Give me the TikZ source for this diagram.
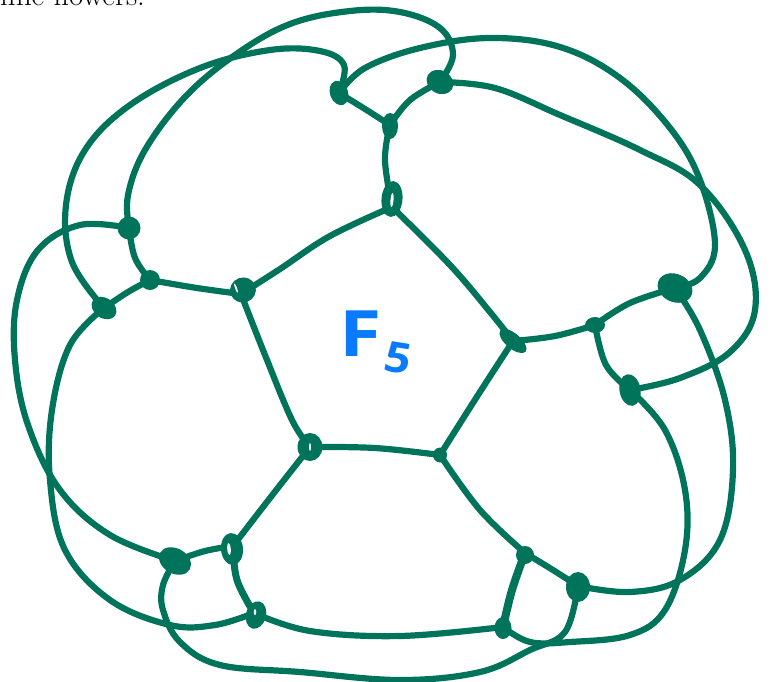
\documentclass[tikz,border=0pt]{standalone}
\usepackage{fontspec}
\usetikzlibrary{shapes.geometric}
\newfontfamily\handfont{Open Sans}
\definecolor{penG}{HTML}{00745A}
\definecolor{penB}{HTML}{0A7BFF}
\tikzset{
  edgeline/.style={draw=penG,line width=6.2pt,line cap=round,line join=round},
  blob/.style={ellipse,fill=penG,inner sep=0pt,outer sep=0pt},
  slit/.style={ellipse,fill=white,inner sep=0pt,outer sep=0pt},
  vtx/.style={inner sep=0pt,outer sep=0pt,minimum size=0pt}
}
\newcommand{\sm}[1]{plot[smooth,tension=0.62] coordinates {#1}}
\begin{document}
\begin{tikzpicture}[x=1pt,y=-1pt]
\useasboundingbox (0,0) rectangle (770,681);
\clip (0,0) rectangle (770,681);
\node[vtx,anchor=base west,font=\fontsize{31}{33}\selectfont] (caption) at (0,5) {ime flowers.};
% vertices
\coordinate (a) at (339,93); \coordinate (b) at (390,125); \coordinate (c) at (440,82);
\coordinate (d) at (392,207); \coordinate (e) at (241,294); \coordinate (f) at (150,280);
\coordinate (g) at (129,228); \coordinate (h) at (104,308); \coordinate (i) at (513,341);
\coordinate (j) at (595,325); \coordinate (k) at (675,288); \coordinate (l) at (630,390);
\coordinate (m) at (310,447); \coordinate (n) at (440,455); \coordinate (o) at (233,546);
\coordinate (p) at (175,561); \coordinate (q) at (254,613); \coordinate (r) at (525,553);
\coordinate (s) at (578,586); \coordinate (t) at (503,627);
% inner edges
\draw[edgeline] \sm{(a) (365,109) (b)};
\draw[edgeline] \sm{(b) (410,100) (c)};
\draw[edgeline] \sm{(b) (385,160) (d)};
\draw[edgeline] \sm{(d) (330,236) (280,269) (e)};
\draw[edgeline] \sm{(d) (450,265) (490,312) (i)};
\draw[edgeline] \sm{(e) (197,288) (f)};
\draw[edgeline] \sm{(e) (265,355) (292,420) (m)};
\draw[edgeline] \sm{(f) (135,258) (g)};
\draw[edgeline] \sm{(f) (128,292) (h)};
\draw[edgeline] \sm{(i) (555,336) (j)};
\draw[edgeline] \sm{(i) (478,395) (n)};
\draw[edgeline] \sm{(j) (630,303) (k)};
\draw[edgeline] \sm{(j) (606,365) (l)};
\draw[edgeline] \sm{(m) (375,448) (n)};
\draw[edgeline] \sm{(m) (270,498) (o)};
\draw[edgeline] \sm{(n) (480,510) (r)};
\draw[edgeline] \sm{(o) (205,551) (p)};
\draw[edgeline,line width=7pt] \sm{(o) (237,580) (q)};
\draw[edgeline] \sm{(r) (553,570) (s)};
\draw[edgeline,line width=8pt] \sm{(r) (512,590) (t)};
\draw[edgeline] \sm{(q) (310,631) (400,636) (t)};
% outer curves
\draw[edgeline] \sm{(a) (344,65) (320,51) (270,50) (200,68) (130,105) (85,150) (66,205) (72,262) (h)};
\draw[edgeline] \sm{(c) (453,55) (440,28) (400,12) (350,11) (290,24) (235,55) (185,97) (145,150) (128,195) (g)};
\draw[edgeline] \sm{(a) (365,68) (420,48) (490,38) (560,47) (620,78) (670,128) (700,180) (715,245) (700,278) (k)};
\draw[edgeline] \sm{(c) (495,88) (560,115) (640,150) (700,185) (745,250) (755,310) (730,352) (680,378) (l)};
\draw[edgeline] \sm{(g) (80,225) (38,250) (17,300) (15,360) (28,425) (60,490) (110,535) (p)};
\draw[edgeline] \sm{(h) (70,345) (52,410) (50,480) (65,550) (110,600) (170,625) (215,625) (q)};
\draw[edgeline] \sm{(p) (163,585) (163,610) (180,642) (220,665) (300,672) (400,680) (480,672) (530,650) (565,632) (s)};
\draw[edgeline] \sm{(t) (530,642) (570,642) (630,635) (665,610) (685,550) (685,490) (665,430) (l)};
\draw[edgeline] \sm{(s) (630,592) (680,580) (720,540) (733,470) (725,400) (700,330) (k)};
% vertex marks
\node[blob,minimum width=18pt,minimum height=25pt,rotate=20] (va) at (a) {};
\node[blob,minimum width=16pt,minimum height=26pt] (vb) at (390,126) {};
\node[blob,minimum width=23pt,minimum height=28pt,rotate=60] (vc) at (c) {};
\node[blob,minimum width=21pt,minimum height=36pt,rotate=-5] (vd) at (392,199) {};
\node[slit,minimum width=3pt,minimum height=14pt,rotate=-5] (sd) at (392,200) {};
\node[blob,minimum width=26pt,minimum height=25pt,rotate=20] (ve) at (243,290) {};
\node[slit,minimum width=2pt,minimum height=10pt,rotate=20] (se) at (236,288) {};
\node[blob,minimum width=20pt,minimum height=20pt] (vf) at (f) {};
\node[blob,minimum width=23pt,minimum height=23pt] (vg) at (g) {};
\node[blob,minimum width=20pt,minimum height=27pt,rotate=55] (vh) at (h) {};
\node[blob,minimum width=15pt,minimum height=33pt,rotate=50] (vi) at (513,341) {};
\node[blob,minimum width=20pt,minimum height=16pt] (vj) at (j) {};
\node[blob,minimum width=36pt,minimum height=28pt,rotate=-25] (vk) at (675,288) {};
\node[blob,minimum width=21pt,minimum height=32pt,rotate=10] (vl) at (630,390) {};
\node[blob,minimum width=25pt,minimum height=28pt] (vm) at (m) {};
\node[slit,minimum width=2pt,minimum height=8pt] (sm) at (310,447) {};
\node[blob,minimum width=14pt,minimum height=15pt] (vn) at (n) {};
\node[blob,minimum width=22pt,minimum height=32pt,rotate=5] (vo) at (232,549) {};
\node[slit,minimum width=3.5pt,minimum height=12pt,rotate=5] (so) at (229,549) {};
\node[blob,minimum width=34pt,minimum height=25pt,rotate=-30] (vp) at (175,561) {};
\node[blob,minimum width=20pt,minimum height=28pt,rotate=-15] (vq) at (256,615) {};
\node[slit,minimum width=2.5pt,minimum height=6pt] (sq) at (255,612) {};
\node[blob,minimum width=18pt,minimum height=18pt] (vr) at (525,555) {};
\node[blob,minimum width=24pt,minimum height=30pt] (vs) at (578,587) {};
\node[blob,minimum width=17pt,minimum height=22pt] (vt) at (503,628) {};
% label
\node[vtx,text=penB,font=\handfont\bfseries\fontsize{64}{64}\selectfont,xscale=1.2] (lblF) at (361,334) {F};
\node[vtx,text=penB,font=\handfont\bfseries\fontsize{42}{42}\selectfont,xscale=1.1,rotate=-10] (lbl5) at (398,358) {5};
\end{tikzpicture}
\end{document}
